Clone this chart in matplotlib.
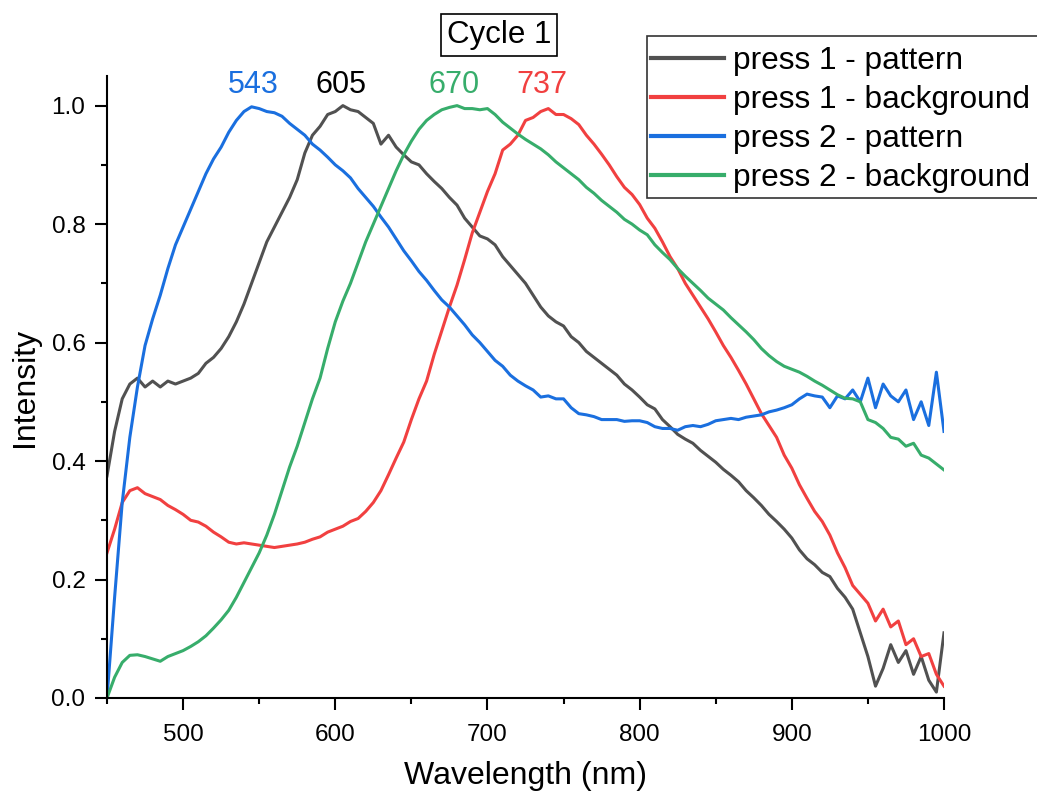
import numpy as np
import matplotlib
matplotlib.use("Agg")
import matplotlib.pyplot as plt
from matplotlib.ticker import MultipleLocator
from matplotlib.patches import Rectangle

plt.rcParams['font.family'] = ['Liberation Sans', 'DejaVu Sans']

wavelength = np.arange(450, 1001, 5)

press1_pattern = [
    0.375, 0.45, 0.505, 0.53, 0.54, 0.525, 0.535, 0.525, 0.535, 0.53,
    0.535, 0.54, 0.548, 0.565, 0.575, 0.59, 0.61, 0.635, 0.665, 0.70,
    0.735, 0.77, 0.795, 0.82, 0.845, 0.875, 0.92, 0.95, 0.965, 0.985,
    0.99, 1.0, 0.993, 0.99, 0.98, 0.97, 0.935, 0.95, 0.93, 0.917,
    0.905, 0.9, 0.885, 0.872, 0.86, 0.845, 0.832, 0.81, 0.795, 0.78,
    0.775, 0.765, 0.745, 0.73, 0.715, 0.70, 0.68, 0.66, 0.645, 0.635,
    0.628, 0.61, 0.60, 0.585, 0.575, 0.565, 0.555, 0.545, 0.53, 0.52,
    0.508, 0.495, 0.488, 0.47, 0.458, 0.445, 0.437, 0.43, 0.418, 0.408,
    0.398, 0.386, 0.376, 0.365, 0.35, 0.338, 0.325, 0.31, 0.298, 0.285,
    0.27, 0.25, 0.235, 0.225, 0.212, 0.205, 0.185, 0.17, 0.15, 0.11,
    0.07, 0.02, 0.05, 0.09, 0.06, 0.08, 0.04, 0.07, 0.03, 0.01, 0.11,
]

press1_background = [
    0.245, 0.285, 0.33, 0.35, 0.355, 0.345, 0.34, 0.335, 0.325, 0.318,
    0.31, 0.30, 0.297, 0.29, 0.28, 0.272, 0.263, 0.26, 0.262, 0.26,
    0.258, 0.256, 0.254, 0.256, 0.258, 0.26, 0.263, 0.268, 0.272, 0.28,
    0.285, 0.29, 0.298, 0.303, 0.315, 0.33, 0.35, 0.377, 0.405, 0.432,
    0.47, 0.505, 0.535, 0.58, 0.62, 0.66, 0.697, 0.74, 0.785, 0.82,
    0.855, 0.885, 0.925, 0.935, 0.95, 0.975, 0.98, 0.99, 0.995, 0.985,
    0.985, 0.978, 0.968, 0.95, 0.935, 0.918, 0.90, 0.88, 0.862, 0.85,
    0.833, 0.81, 0.793, 0.77, 0.745, 0.725, 0.70, 0.68, 0.66, 0.64,
    0.618, 0.595, 0.575, 0.553, 0.53, 0.505, 0.48, 0.46, 0.44, 0.41,
    0.388, 0.36, 0.337, 0.315, 0.298, 0.275, 0.245, 0.22, 0.19, 0.175,
    0.16, 0.13, 0.15, 0.12, 0.13, 0.09, 0.10, 0.07, 0.075, 0.04, 0.02,
]

press2_pattern = [
    0.0, 0.17, 0.33, 0.44, 0.525, 0.595, 0.64, 0.68, 0.725, 0.765,
    0.795, 0.825, 0.855, 0.885, 0.91, 0.93, 0.955, 0.975, 0.99, 0.998,
    0.995, 0.99, 0.988, 0.982, 0.97, 0.96, 0.95, 0.935, 0.925, 0.913,
    0.9, 0.89, 0.878, 0.86, 0.845, 0.83, 0.812, 0.795, 0.775, 0.755,
    0.738, 0.72, 0.705, 0.688, 0.672, 0.66, 0.645, 0.63, 0.613, 0.60,
    0.585, 0.57, 0.56, 0.545, 0.535, 0.527, 0.52, 0.508, 0.51, 0.505,
    0.505, 0.49, 0.48, 0.478, 0.475, 0.47, 0.47, 0.47, 0.467, 0.468,
    0.468, 0.465, 0.458, 0.455, 0.455, 0.452, 0.458, 0.46, 0.458, 0.462,
    0.468, 0.47, 0.472, 0.47, 0.474, 0.476, 0.478, 0.483, 0.486, 0.49,
    0.495, 0.505, 0.513, 0.51, 0.508, 0.49, 0.51, 0.505, 0.52, 0.50,
    0.54, 0.49, 0.53, 0.51, 0.50, 0.52, 0.47, 0.50, 0.46, 0.55, 0.45,
]

press2_background = [
    0.0, 0.035, 0.06, 0.072, 0.073, 0.07, 0.066, 0.062, 0.07, 0.075,
    0.08, 0.087, 0.095, 0.105, 0.118, 0.132, 0.148, 0.17, 0.195, 0.22,
    0.245, 0.275, 0.31, 0.35, 0.39, 0.425, 0.465, 0.505, 0.54, 0.59,
    0.635, 0.67, 0.70, 0.735, 0.77, 0.80, 0.83, 0.86, 0.89, 0.917,
    0.94, 0.96, 0.975, 0.985, 0.993, 0.997, 1.0, 0.995, 0.995, 0.993,
    0.995, 0.985, 0.972, 0.962, 0.952, 0.943, 0.935, 0.927, 0.917, 0.905,
    0.895, 0.885, 0.875, 0.862, 0.852, 0.84, 0.83, 0.82, 0.808, 0.80,
    0.79, 0.782, 0.765, 0.752, 0.74, 0.725, 0.712, 0.70, 0.688, 0.675,
    0.665, 0.655, 0.642, 0.63, 0.618, 0.605, 0.59, 0.578, 0.568, 0.56,
    0.555, 0.55, 0.543, 0.535, 0.528, 0.52, 0.512, 0.506, 0.505, 0.50,
    0.47, 0.465, 0.455, 0.44, 0.437, 0.425, 0.43, 0.41, 0.405, 0.395, 0.385,
]

series_labels = ["press 1 - pattern", "press 1 - background",
                 "press 2 - pattern", "press 2 - background"]
series_colors = ["#515151", "#F14040", "#1A6FDF", "#37AD6B"]

peak_labels = ["543", "605", "670", "737"]
peak_label_x = [546, 604, 678, 736]
peak_label_colors = ["#1A6FDF", "#000000", "#37AD6B", "#F14040"]

W, H = 1037, 797
fig = plt.figure(figsize=(W / 100, H / 100), dpi=100)
ax = fig.add_axes([107 / W, 1 - 698 / H, (944 - 107) / W, (698 - 76) / H])

for y, lab, col in zip([press1_pattern, press1_background, press2_pattern, press2_background],
                       series_labels, series_colors):
    ax.plot(wavelength, y, color=col, lw=2.2, label=lab)

ax.set_xlim(450, 1000)
ax.set_ylim(0, 1.05)
ax.xaxis.set_major_locator(MultipleLocator(100))
ax.xaxis.set_minor_locator(MultipleLocator(50))
ax.yaxis.set_major_locator(MultipleLocator(0.2))
ax.yaxis.set_minor_locator(MultipleLocator(0.1))
ax.yaxis.set_major_formatter(matplotlib.ticker.FormatStrFormatter('%.1f'))

for s in ['top', 'right']:
    ax.spines[s].set_visible(False)
for s in ['left', 'bottom']:
    ax.spines[s].set_linewidth(1.5)

ax.tick_params(which='major', direction='out', length=8.5, width=1.5, labelsize=17.5)
ax.tick_params(which='minor', direction='out', length=4, width=1.5)
ax.tick_params(axis='x', which='major', pad=10)
ax.tick_params(axis='y', which='major', pad=7)

ax.set_xlabel("Wavelength (nm)", fontsize=23, labelpad=11)
ax.set_ylabel("Intensity", fontsize=23, labelpad=8)

for t, xx, c in zip(peak_labels, peak_label_x, peak_label_colors):
    ax.text(xx, 1.021, t, color=c, fontsize=22, ha='center', va='baseline', clip_on=False)

fig.text(499 / W, 1 - 35 / H, "Cycle 1", fontsize=22.5, ha='center', va='center',
         bbox=dict(boxstyle='square,pad=0.18', facecolor='white', edgecolor='black', linewidth=1.2))

# legend frame drawn separately (it runs past the right edge of the figure)
frame = Rectangle((647 / W, 1 - 198 / H), (1050 - 647) / W, (198 - 36) / H,
                  transform=fig.transFigure, facecolor='white', edgecolor='#333333',
                  linewidth=1.2, zorder=4)
fig.add_artist(frame)

leg = fig.legend(loc='upper left', bbox_to_anchor=(651 / W, 1 - 46 / H),
                 bbox_transform=fig.transFigure, fontsize=22.8, frameon=False,
                 borderpad=0, handlelength=2.3, handletextpad=0.3,
                 labelspacing=0.28, borderaxespad=0)
leg.set_zorder(5)
for h in leg.get_lines():
    h.set_linewidth(3)

fig.savefig("out.png", dpi=100)
